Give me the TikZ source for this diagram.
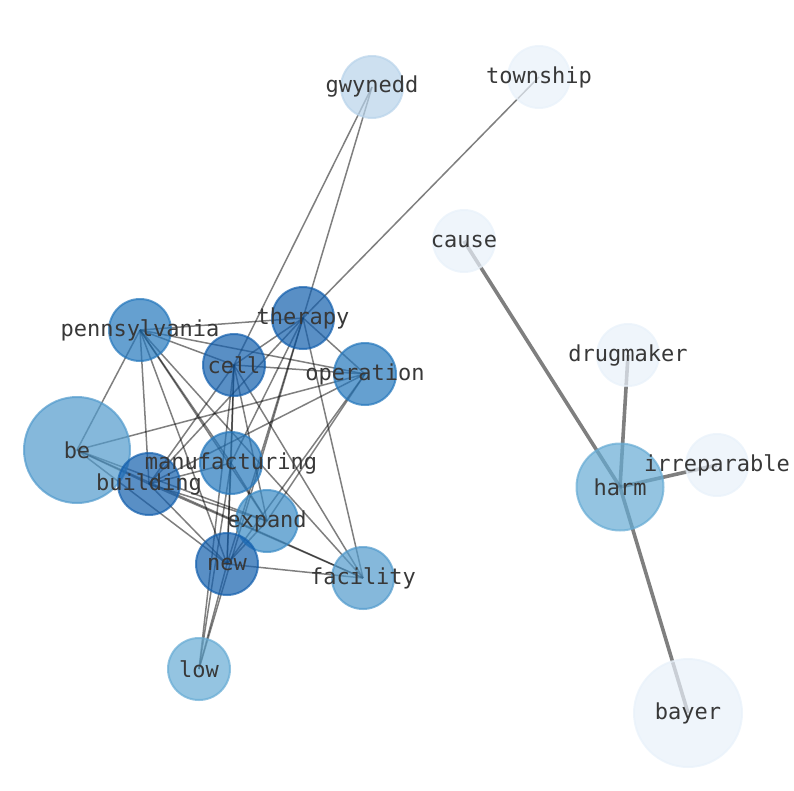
\documentclass[tikz,border=0pt]{standalone}
\usepackage{fontspec}
\setmonofont{DejaVu Sans Mono}
\usetikzlibrary{calc}
\pgfdeclarelayer{edges}
\pgfdeclarelayer{labels}
\pgfsetlayers{edges,main,labels}
\definecolor{blueA}{RGB}{19,95,173}
\definecolor{blueB}{RGB}{36,119,188}
\definecolor{blueC}{RGB}{57,138,197}
\definecolor{blueD}{RGB}{81,154,204}
\definecolor{blueE}{RGB}{102,171,212}
\definecolor{blueF}{RGB}{184,211,234}
\definecolor{blueG}{RGB}{232,241,250}
\tikzstyle{word}=[circle,draw,fill,line width=2pt,opacity=0.7,inner sep=0pt,minimum size=62pt]
\tikzstyle{bigword}=[word,minimum size=106pt]
\tikzstyle{wordtext}=[inner sep=0pt,text=black!78,font=\ttfamily\fontsize{22}{26}\selectfont]
\tikzstyle{link}=[draw=black,opacity=0.5,line width=1.5pt]
\tikzstyle{strong}=[link,line width=3.6pt]

\begin{document}
\begin{tikzpicture}[x=1pt,y=-1pt]
	\useasboundingbox (0,0) rectangle (794,790);

	\node[word,blueF] (gwynedd) at (372,87) {};
	\node[word,blueG] (township) at (539,77) {};
	\node[word,blueG] (cause) at (464,241) {};
	\node[word,blueA] (therapy) at (303,318) {};
	\node[word,blueB] (pennsylvania) at (140,330) {};
	\node[word,blueA] (cell) at (234,365) {};
	\node[word,blueB] (operation) at (365,374) {};
	\node[bigword,blueD] (be) at (77,450) {};
	\node[word,blueB] (manufacturing) at (231,463) {};
	\node[word,blueA] (building) at (149,484) {};
	\node[word,blueC] (expand) at (267,521) {};
	\node[word,blueA] (new) at (227,564) {};
	\node[word,blueD] (facility) at (363,578) {};
	\node[word,blueE] (low) at (199,669) {};
	\node[word,blueG] (drugmaker) at (628,355) {};
	\node[word,blueE,minimum size=87pt] (harm) at (620,487) {};
	\node[word,blueG] (irreparable) at (717,465) {};
	\node[bigword,blueG,minimum size=108pt] (bayer) at (688,713) {};

	\begin{pgfonlayer}{edges}
	\draw[link] (pennsylvania.center) -- (therapy.center);
	\draw[link] (pennsylvania.center) -- (cell.center);
	\draw[link] (pennsylvania.center) -- (operation.center);
	\draw[link] (pennsylvania.center) -- (be.center);
	\draw[link] (pennsylvania.center) -- (building.center);
	\draw[link] (pennsylvania.center) -- (new.center);
	\draw[link] (pennsylvania.center) -- (manufacturing.center);
	\draw[link] (pennsylvania.center) -- (expand.center);
	\draw[link] (pennsylvania.center) -- (facility.center);
	\draw[link] (therapy.center) -- (gwynedd.center);
	\draw[link] (therapy.center) -- (township.center);
	\draw[link] (therapy.center) -- (cell.center);
	\draw[link] (therapy.center) -- (operation.center);
	\draw[link] (therapy.center) -- (building.center);
	\draw[link] (therapy.center) -- (manufacturing.center);
	\draw[link] (therapy.center) -- (new.center);
	\draw[link] (therapy.center) -- (low.center);
	\draw[link] (therapy.center) -- (facility.center);
	\draw[link] (cell.center) -- (gwynedd.center);
	\draw[link] (cell.center) -- (operation.center);
	\draw[link] (cell.center) -- (building.center);
	\draw[link] (cell.center) -- (manufacturing.center);
	\draw[link] (cell.center) -- (new.center);
	\draw[link] (cell.center) -- (low.center);
	\draw[link] (cell.center) -- (expand.center);
	\draw[link] (cell.center) -- (facility.center);
	\draw[link] (operation.center) -- (be.center);
	\draw[link] (operation.center) -- (building.center);
	\draw[link] (operation.center) -- (new.center);
	\draw[link] (operation.center) -- (expand.center);
	\draw[link] (be.center) -- (building.center);
	\draw[link] (be.center) -- (expand.center);
	\draw[link] (be.center) -- (new.center);
	\draw[link] (be.center) -- (facility.center);
	\draw[link] (building.center) -- (manufacturing.center);
	\draw[link] (building.center) -- (expand.center);
	\draw[link] (building.center) -- (new.center);
	\draw[link] (building.center) -- (facility.center);
	\draw[link] (manufacturing.center) -- (new.center);
	\draw[link] (manufacturing.center) -- (expand.center);
	\draw[link] (manufacturing.center) -- (low.center);
	\draw[link] (new.center) -- (low.center);
	\draw[link] (new.center) -- (facility.center);
	\draw[link] (new.center) -- (expand.center);
	\draw[strong] (harm.center) -- (cause.center);
	\draw[strong] (harm.center) -- (drugmaker.center);
	\draw[strong] (harm.center) -- (irreparable.center);
	\draw[strong] (harm.center) -- (bayer.center);
	\end{pgfonlayer}

	\begin{pgfonlayer}{labels}
	\node[wordtext] (gwynedd-t) at (gwynedd) {gwynedd};
	\node[wordtext] (township-t) at (township) {township};
	\node[wordtext] (cause-t) at (cause) {cause};
	\node[wordtext] (therapy-t) at (therapy) {therapy};
	\node[wordtext] (pennsylvania-t) at (pennsylvania) {pennsylvania};
	\node[wordtext] (cell-t) at (cell) {cell};
	\node[wordtext] (operation-t) at (operation) {operation};
	\node[wordtext] (be-t) at (be) {be};
	\node[wordtext] (manufacturing-t) at (manufacturing) {manufacturing};
	\node[wordtext] (building-t) at (building) {building};
	\node[wordtext] (expand-t) at (expand) {expand};
	\node[wordtext] (new-t) at (new) {new};
	\node[wordtext] (facility-t) at (facility) {facility};
	\node[wordtext] (low-t) at (low) {low};
	\node[wordtext] (drugmaker-t) at (drugmaker) {drugmaker};
	\node[wordtext] (harm-t) at (harm) {harm};
	\node[wordtext] (irreparable-t) at (irreparable) {irreparable};
	\node[wordtext] (bayer-t) at (bayer) {bayer};
	\end{pgfonlayer}
\end{tikzpicture}
\end{document}
